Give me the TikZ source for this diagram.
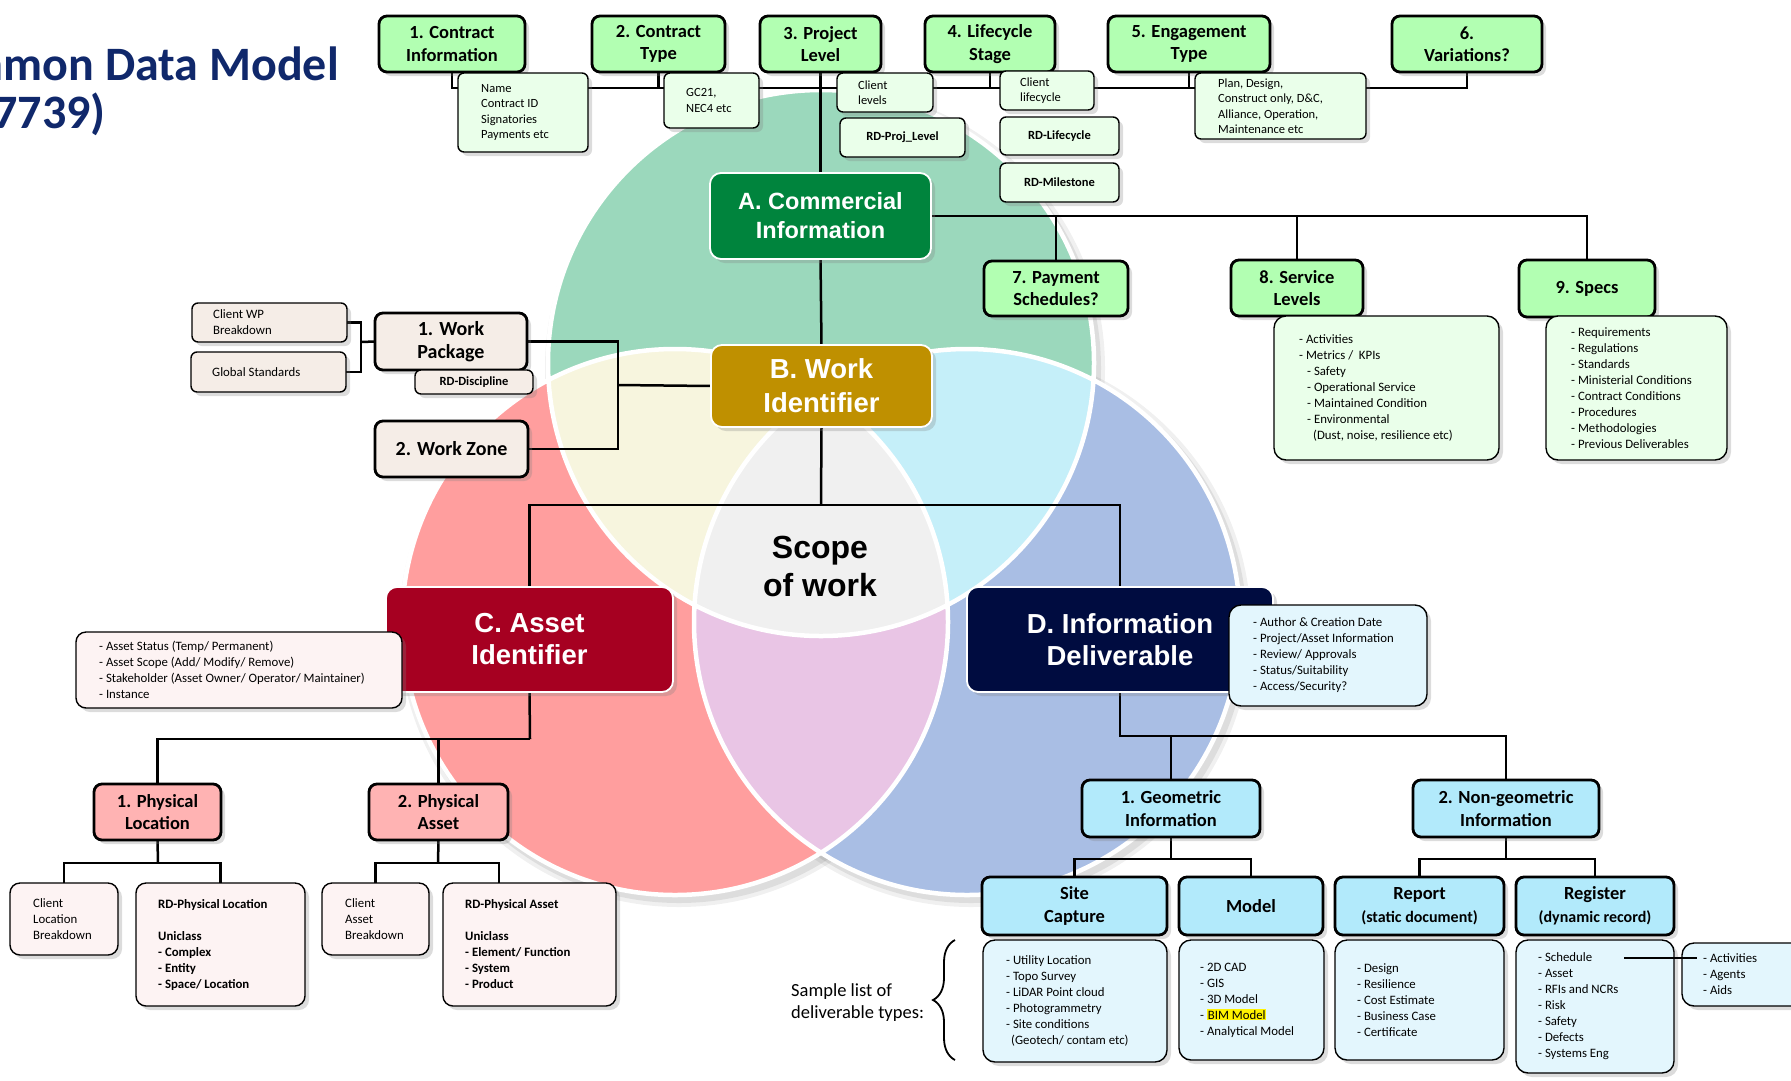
\documentclass[tikz,border=0pt]{standalone}
\usepackage{fontspec}
\setmainfont{Carlito}
\newfontfamily\arialf{Liberation Sans}
\usetikzlibrary{shadows,decorations.pathreplacing,calc}
\pgfdeclarelayer{bg}\pgfdeclarelayer{lines}
\pgfsetlayers{bg,lines,main}
\definecolor{titlenavy}{RGB}{16,40,107}
\definecolor{tgreen}{RGB}{178,255,178}
\definecolor{sgreen}{RGB}{234,255,234}
\definecolor{beige}{RGB}{245,237,231}
\definecolor{pinkb}{RGB}{255,179,179}
\definecolor{pinks}{RGB}{253,243,243}
\definecolor{blueb}{RGB}{178,234,251}
\definecolor{blues}{RGB}{227,246,253}
\definecolor{Acol}{RGB}{0,132,61}
\definecolor{Bcol}{RGB}{191,144,0}
\definecolor{Ccol}{RGB}{166,0,33}
\definecolor{Dcol}{RGB}{0,12,64}
\definecolor{vgreen}{RGB}{155,216,188}
\definecolor{vred}{RGB}{255,158,158}
\definecolor{vblue}{RGB}{169,190,228}
\definecolor{vcream}{RGB}{247,245,222}
\definecolor{vcyan}{RGB}{197,239,249}
\definecolor{vpink}{RGB}{233,197,229}
\definecolor{vgray}{RGB}{240,240,240}
\newcommand\mybox[7]{%
  \node[#6, minimum width={(#4-#2)*1pt}, minimum height={(#5-#3)*1pt}] (#1) at ({(#2+#4)/2},{(#3+#5)/2}) {#7};}
\newcommand\mylbox[9]{%
  \node[#6, minimum width={(#4-#2)*1pt}, minimum height={(#5-#3)*1pt}] (#1) at ({(#2+#4)/2},{(#3+#5)/2}) {};
  \node[#8, anchor=west, align=left, inner sep=0pt] (#1t) at (#7,{(#3+#5)/2}) {#9};}
\newcommand\hlbox[1]{{\setlength{\fboxsep}{0.8pt}\colorbox{yellow}{#1}}}
\tikzset{
  basebox/.style={inner sep=0pt, outer sep=0pt, rounded corners=8pt},
  shad/.style={drop shadow={opacity=0.28, shadow xshift=4pt, shadow yshift=-4pt}},
  topbox/.style={basebox, shad, draw=black, line width=2.8pt, fill=tgreen, align=center,
    font=\bfseries\fontsize{18.5}{22.5}\selectfont},
  workbox/.style={topbox, fill=beige, font=\bfseries\fontsize{20}{23}\selectfont},
  pinkbox/.style={topbox, fill=pinkb},
  bluebox/.style={topbox, fill=blueb},
  subg/.style={basebox, shad, draw=black, line width=1.4pt, fill=sgreen, rounded corners=6pt},
  beigesub/.style={subg, fill=beige},
  pinksub/.style={subg, fill=pinks, rounded corners=10pt},
  bluesub/.style={subg, fill=blues, rounded corners=12pt},
  subtxt/.style={font=\fontsize{12.5}{15.5}\selectfont},
  subbold/.style={font=\bfseries\fontsize{12.5}{15}\selectfont},
  listtxt/.style={font=\fontsize{12.8}{16}\selectfont},
  listbold/.style={font=\bfseries\fontsize{12.8}{16}\selectfont},
  mainbox/.style={basebox, shad, draw=white, line width=1.8pt, rounded corners=11pt, text=white, align=center,
    font=\arialf\bfseries\fontsize{27.5}{32}\selectfont},
  conn/.style={draw=black, line width=2.5pt},
}
\begin{document}
\begin{tikzpicture}[x=1pt,y=-1pt]
\useasboundingbox (0,0) rectangle (1791,1080);
% ---------- Venn circles ----------
\coordinate (gC) at (821,363);
\coordinate (rC) at (675,622);
\coordinate (bC) at (967,622);
\begin{pgfonlayer}{bg}
  \fill[black, opacity=0.06] ($(gC)+(4,5)$) circle[radius=280pt];
  \fill[black, opacity=0.06] ($(rC)+(4,5)$) circle[radius=280pt];
  \fill[black, opacity=0.06] ($(bC)+(4,5)$) circle[radius=280pt];
  \fill[black, opacity=0.08] ($(gC)+(4,5)$) circle[radius=276pt];
  \fill[black, opacity=0.08] ($(rC)+(4,5)$) circle[radius=276pt];
  \fill[black, opacity=0.08] ($(bC)+(4,5)$) circle[radius=276pt];
  \fill[vgreen] (gC) circle[radius=273pt];
  \fill[vred] (rC) circle[radius=273pt];
  \fill[vblue] (bC) circle[radius=273pt];
  \begin{scope}
    \clip (gC) circle[radius=273pt];
    \fill[vcream] (rC) circle[radius=273pt];
    \fill[vcyan] (bC) circle[radius=273pt];
  \end{scope}
  \begin{scope}
    \clip (rC) circle[radius=273pt];
    \fill[vpink] (bC) circle[radius=273pt];
    \clip (bC) circle[radius=273pt];
    \fill[vgray] (gC) circle[radius=273pt];
  \end{scope}
  \draw[white, line width=4.5pt] (gC) circle[radius=273pt] (rC) circle[radius=273pt] (bC) circle[radius=273pt];
\end{pgfonlayer}
% ---------- Title ----------
\begin{scope}
  \clip (0,0) rectangle (1791,1080);
  \node[anchor=base east, inner sep=0pt, text=titlenavy, font=\bfseries\fontsize{48}{52}\selectfont] (title1) at (339,80) {Common Data Model};
  \node[anchor=base east, inner sep=0pt, text=titlenavy, font=\bfseries\fontsize{48}{52}\selectfont] (title2) at (106,128) {7739)};
\end{scope}
% ---------- A: commercial ----------
\mybox{c1}{379}{16}{525}{72}{topbox}{1. Contract\\Information}
\mybox{c2}{592}{16}{725}{72}{topbox}{2. Contract\\Type}
\mybox{c3}{760}{16}{881}{72}{topbox}{3. Project\\Level}
\mybox{c4}{925}{16}{1055}{72}{topbox}{4. Lifecycle\\Stage}
\mybox{c5}{1108}{16}{1270}{72}{topbox}{5. Engagement\\Type}
\mybox{c6}{1392}{16}{1542}{72}{topbox}{6.\\Variations?}
\mylbox{s1}{458}{73}{588}{152}{subg}{481}{subtxt}{Name\\Contract ID\\Signatories\\Payments etc}
\mylbox{s2}{664}{73}{759}{128}{subg}{686}{subtxt}{GC21,\\NEC4 etc}
\mylbox{s3}{837}{73}{933}{112}{subg}{858}{subtxt}{Client\\levels}
\mybox{s3b}{840}{118}{965}{157}{subg, subbold}{RD-Proj\_Level}
\mylbox{s4}{1000}{71}{1094}{110}{subg}{1020}{subtxt}{Client\\lifecycle}
\mybox{s4b}{1000}{117}{1119}{155}{subg, subbold}{RD-Lifecycle}
\mybox{s4c}{1000}{163}{1119}{202}{subg, subbold}{RD-Milestone}
\mylbox{s5}{1195}{73}{1366}{139}{subg}{1218}{subtxt}{Plan, Design,\\Construct only, D\&C,\\Alliance, Operation,\\Maintenance etc}
\mybox{A}{710}{173}{931}{259}{mainbox, fill=Acol, font=\arialf\bfseries\fontsize{23.5}{29}\selectfont}{A. Commercial\\Information}
\mybox{p7}{984}{261}{1128}{316}{topbox}{7. Payment\\Schedules?}
\mybox{p8}{1231}{260}{1363}{316}{topbox}{8. Service\\Levels}
\mybox{p9}{1519}{260}{1655}{317}{topbox}{9. Specs}
\mylbox{l8}{1274}{316}{1499}{460}{subg, rounded corners=12pt}{1299}{listtxt}{- Activities\\- Metrics /\ \ KPIs\\\hspace*{8pt}- Safety\\\hspace*{8pt}- Operational Service\\\hspace*{8pt}- Maintained Condition\\\hspace*{8pt}- Environmental\\\hspace*{14pt}(Dust, noise, resilience etc)}
\mylbox{l9}{1546}{316}{1727}{460}{subg, rounded corners=12pt}{1571}{listtxt}{- Requirements\\- Regulations\\- Standards\\- Ministerial Conditions\\- Contract Conditions\\- Procedures\\- Methodologies\\- Previous Deliverables}
% ---------- B: work ----------
\mybox{B}{711}{345}{932}{427}{mainbox, fill=Bcol, font=\arialf\bfseries\fontsize{27.5}{34}\selectfont}{B. Work\\Identifier}
\mylbox{wpc}{192}{303}{347}{342}{beigesub}{213}{listtxt}{Client WP\\Breakdown}
\mylbox{wpg}{191}{352}{346}{392}{beigesub}{212}{listtxt}{Global Standards}
\mybox{wp1}{375}{313}{527}{370}{workbox}{1. Work\\Package}
\mybox{rdd}{415}{370}{533}{394}{beigesub, subbold}{RD-Discipline}
\mybox{wz}{375}{421}{528}{477}{workbox}{2. Work Zone}
% ---------- scope ----------
\node[inner sep=0pt, align=center, font=\arialf\bfseries\fontsize{32}{38}\selectfont] (scope) at (820,566) {Scope\\of work};
% ---------- C: asset ----------
\mybox{C}{386}{587}{673}{692}{mainbox, fill=Ccol}{C. Asset\\Identifier}
\mylbox{cside}{76}{632}{402}{708}{pinksub}{99}{listtxt}{- Asset Status (Temp/ Permanent)\\- Asset Scope (Add/ Modify/ Remove)\\- Stakeholder (Asset Owner/ Operator/ Maintainer)\\- Instance}
\mybox{pl1}{94}{784}{221}{840}{pinkbox}{1. Physical\\Location}
\mybox{pa2}{369}{784}{508}{840}{pinkbox}{2. Physical\\Asset}
\mylbox{clb}{10}{883}{118}{955}{pinksub}{33}{listtxt}{Client\\Location\\Breakdown}
\mylbox{rdpl}{136}{883}{305}{1006}{pinksub}{158}{listbold}{RD-Physical Location\\[16pt]Uniclass\\- Complex\\- Entity\\- Space/ Location}
\mylbox{cab}{322}{883}{429}{955}{pinksub}{345}{listtxt}{Client\\Asset\\Breakdown}
\mylbox{rdpa}{443}{883}{616}{1006}{pinksub}{465}{listbold}{RD-Physical Asset\\[16pt]Uniclass\\- Element/ Function\\- System\\- Product}
% ---------- D: information ----------
\mybox{D}{967}{587}{1273}{692}{mainbox, fill=Dcol}{D. Information\\Deliverable}
\mylbox{dside}{1229}{605}{1427}{706}{bluesub}{1253}{listtxt}{- Author \& Creation Date\\- Project/Asset Information\\- Review/ Approvals\\- Status/Suitability\\- Access/Security?}
\mybox{geo}{1082}{780}{1260}{837}{bluebox}{1. Geometric\\Information}
\mybox{ngeo}{1413}{780}{1599}{837}{bluebox}{2. Non-geometric\\Information}
\mybox{site}{982}{877}{1167}{935}{bluebox}{Site\\Capture}
\mybox{model}{1179}{877}{1323}{935}{bluebox}{Model}
\mybox{report}{1335}{877}{1504}{935}{bluebox}{Report\\{\fontsize{16}{18}\selectfont(static document)}}
\mybox{register}{1516}{877}{1674}{935}{bluebox}{Register\\{\fontsize{16}{18}\selectfont(dynamic record)}}
\mylbox{sitel}{983}{940}{1167}{1062}{bluesub}{1006}{listtxt}{- Utility Location\\- Topo Survey\\- LiDAR Point cloud\\- Photogrammetry\\- Site conditions\\\hspace*{5pt}(Geotech/ contam etc)}
\mylbox{modell}{1179}{940}{1324}{1060}{bluesub}{1200}{listtxt}{- 2D CAD\\- GIS\\- 3D Model\\- \hlbox{BIM Model}\\- Analytical Model}
\mylbox{reportl}{1335}{940}{1504}{1060}{bluesub}{1357}{listtxt}{- Design\\- Resilience\\- Cost Estimate\\- Business Case\\- Certificate}
\mylbox{regl}{1516}{940}{1674}{1073}{bluesub}{1538}{listtxt}{- Schedule\\- Asset\\- RFIs and NCRs\\- Risk\\- Safety\\- Defects\\- Systems Eng}
\mylbox{act}{1682}{943}{1810}{1006}{bluesub}{1703}{listtxt}{- Activities\\- Agents\\- Aids}
\coordinate (schA) at (1624,958);
\coordinate (schB) at (1697,958);
\draw[conn, line width=1.8pt] (schA) -- (schB);
\node[inner sep=0pt, anchor=west, align=left, font=\fontsize{18.5}{22}\selectfont] (sample) at (791,1003) {Sample list of\\deliverable types:};
\coordinate (braceB) at (955,1060);
\coordinate (braceT) at (955,940);
\draw[decorate, decoration={brace, amplitude=22pt}, line width=1.8pt] (braceB) -- (braceT);
% ---------- connectors ----------
\begin{pgfonlayer}{lines}
  \coordinate (bus) at (0,88);
  \draw[conn] (c1.south) |- (c6.south |- bus) -- (c6.south);
  \draw[conn] (c2.south) -- (c2.south |- bus);
  \draw[conn] (c4.south) -- (c4.south |- bus);
  \draw[conn] (c5.south) -- (c5.south |- bus);
  \draw[conn] (c3.south) -- (A.north);
  \draw[conn] (A.south) -- (B.north);
  \coordinate (hub) at (821,505);
  \draw[conn] (B.south) -- (hub);
  \draw[conn] (C.north) -- (C.north |- hub) -- (D.north |- hub) -- (D.north);
  \draw[conn] (A.east) -- (p9.north |- A.east) -- (p9.north);
  \draw[conn] (p7.north) -- (p7.north |- A.east);
  \draw[conn] (p8.north) -- (p8.north |- A.east);
  \coordinate (wj) at (618,385);
  \draw[conn] (wp1.east) -| (wj) |- (wz.east);
  \draw[conn] (wj) -- (B.west);
  \coordinate (bj) at (361,342);
  \draw[conn] (wpc.east) -| (bj) |- (wpg.east);
  \draw[conn] (bj) -- (wp1.west);
  \coordinate (cj) at (530,739);
  \draw[conn] (C.south) -- (cj);
  \draw[conn] (pl1.north) |- (cj);
  \draw[conn] (pa2.north) -- (pa2.north |- cj);
  \coordinate (plj) at (158,863);
  \draw[conn] (pl1.south) -- (plj);
  \draw[conn] (clb.north) |- (plj) -| (rdpl.north);
  \coordinate (paj) at (438,863);
  \coordinate (paj2) at (499,863);
  \draw[conn] (pa2.south) -- (paj);
  \draw[conn] (cab.north) |- (paj) -- (paj2) -- (paj2 |- rdpa.north);
  \coordinate (dj) at (1120,736);
  \draw[conn] (D.south) -- (dj) -| (ngeo.north);
  \draw[conn] (geo.north) -- (geo.north |- dj);
  \coordinate (gj) at (1171,859);
  \draw[conn] (geo.south) -- (gj);
  \draw[conn] (site.north) |- (gj) -| (model.north);
  \coordinate (nj) at (1506,859);
  \draw[conn] (ngeo.south) -- (nj);
  \draw[conn] (report.north) |- (nj) -| (register.north);
\end{pgfonlayer}
\end{tikzpicture}
\end{document}
